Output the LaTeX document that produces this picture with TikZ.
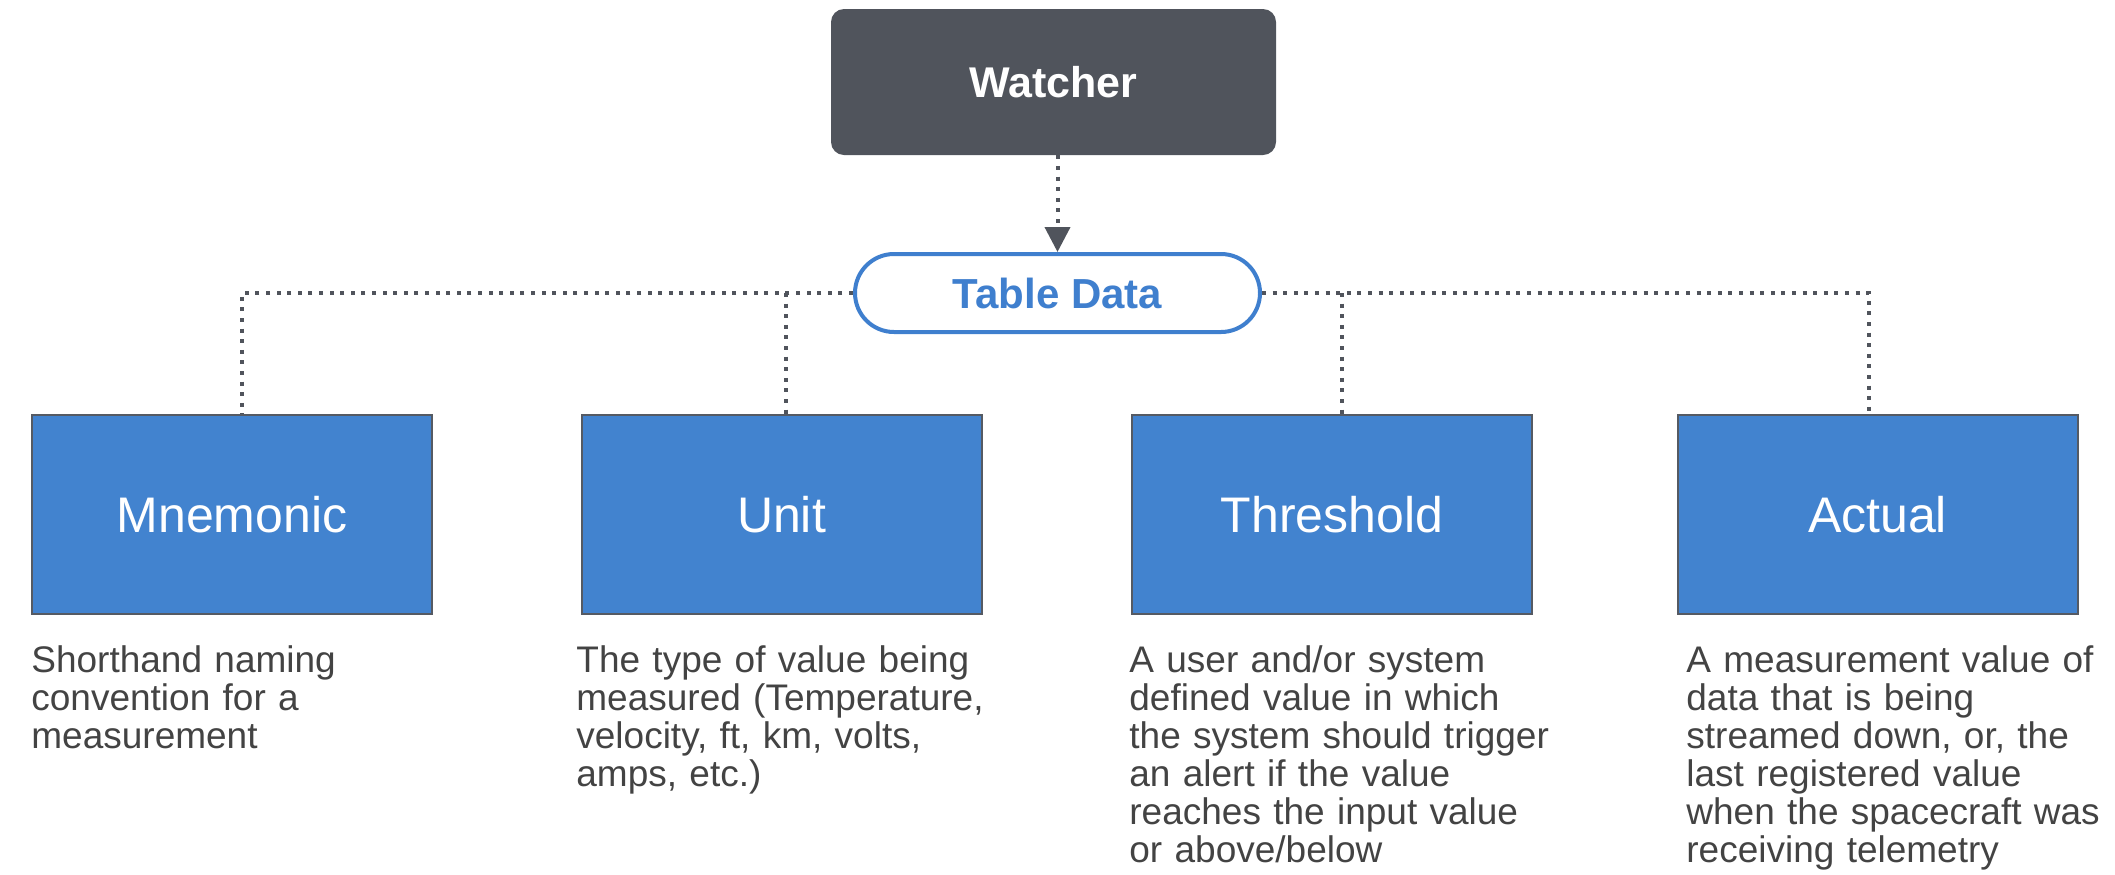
\documentclass[tikz,border=0pt]{standalone}
\usepackage{fontspec}
\setmainfont{Liberation Sans}
\usetikzlibrary{arrows.meta}
\definecolor{wgray}{HTML}{50545C}
\definecolor{bfill}{HTML}{4283CF}
\definecolor{bedge}{HTML}{555A63}
\definecolor{tdblue}{HTML}{3F7FCE}
\definecolor{desccol}{HTML}{434343}
\begin{document}
\begin{tikzpicture}[x=0.5pt,y=-0.5pt,
 watcherbox/.style={fill=wgray, draw=none, rounded corners=6.5pt, minimum width=222.5pt, minimum height=73pt, text=white, font=\bfseries\fontsize{21.5}{24}\selectfont, inner sep=0},
 tdbox/.style={draw=tdblue, line width=2pt, fill=white, rounded corners=19.5pt, minimum width=202.5pt, minimum height=39pt, text=tdblue, font=\bfseries\fontsize{21}{24}\selectfont, inner sep=0},
 fieldbox/.style={fill=bfill, draw=bedge, line width=1pt, minimum width=200pt, minimum height=99.5pt, text=white, font=\fontsize{25}{28}\selectfont, inner sep=0},
 desctext/.style={anchor=base west, text width=215pt, align=left, inner sep=0, text=desccol, font=\fontsize{18.5}{19}\selectfont},
 link/.style={draw=wgray, line width=2pt, dash pattern=on 2pt off 3.3pt}
]
\useasboundingbox (0,0) rectangle (2115,874);
\node[watcherbox] (w) at (1053.5,82) {Watcher};
\node[tdbox] (td) at (1057.5,293) {Table Data};
\node[fieldbox] (mn) at (232,514.5) {Mnemonic};
\node[fieldbox] (un) at (781.5,514.5) {Unit};
\node[fieldbox] (th) at (1332,514.5) {Threshold};
\node[fieldbox] (ac) at (1877.5,514.5) {Actual};

\coordinate (jm) at (242,293);
\coordinate (ju) at (786,293);
\coordinate (jt) at (1342,293);
\coordinate (ja) at (1869,293);

\draw[link, -{Triangle[width=12.5pt,length=12.5pt]}] (td.north |- w.south) -- (td.north);
\draw[link] (td.west) -- (jm) -- (jm |- mn.north);
\draw[link] (ju) -- (ju |- un.north);
\draw[link] (td.east) -- (ja) -- (ja |- ac.north);
\draw[link] (jt) -- (jt |- th.north);

\node[desctext] (dm) at (31,672) {Shorthand naming\\convention for a\\measurement};
\node[desctext] (du) at (576,672) {The type of value being\\measured (Temperature,\\velocity, ft, km, volts,\\amps, etc.)};
\node[desctext] (dt) at (1129,672) {A user and/or system\\defined value in which\\the system should trigger\\an alert if the value\\reaches the input value\\or above/below};
\node[desctext] (da) at (1686,672) {A measurement value of\\data that is being\\streamed down, or, the\\last registered value\\when the spacecraft was\\receiving telemetry};
\end{tikzpicture}
\end{document}
